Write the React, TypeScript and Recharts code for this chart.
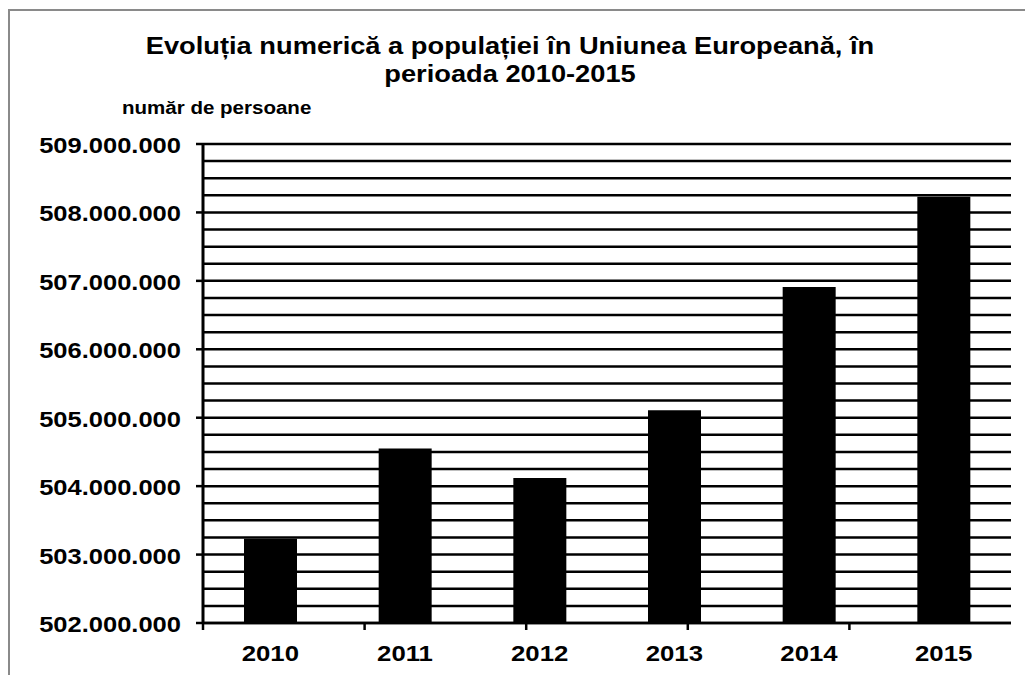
import React from "react";
import { BarChart, Bar, XAxis, YAxis, CartesianGrid } from "recharts";

const years = ["2010", "2011", "2012", "2013", "2014", "2015"];
const population = [503230000, 504550000, 504120000, 505110000, 506910000, 508230000];
const yTicks = [
  502000000, 502250000, 502500000, 502750000,
  503000000, 503250000, 503500000, 503750000,
  504000000, 504250000, 504500000, 504750000,
  505000000, 505250000, 505500000, 505750000,
  506000000, 506250000, 506500000, 506750000,
  507000000, 507250000, 507500000, 507750000,
  508000000, 508250000, 508500000, 508750000,
  509000000,
];
const boundaryTicks = [0, 1, 2, 3, 4, 5, 6];
const titleLines = [
  "Evoluția numerică a populației în Uniunea Europeană, în",
  "perioada 2010-2015",
];
const yAxisTitle = "număr de persoane";

const data = years.map((y, i) => ({ year: y, value: population[i] }));

const FONT = "'Liberation Sans', Arial, sans-serif";

const fmt = (v: number) =>
  String(v).replace(/\B(?=(\d{3})+(?!\d))/g, ".");

const YTick = (props: any) => {
  const { x, y, payload } = props;
  const v = payload.value as number;
  if (v % 1000000 !== 0) return <g />;
  return (
    <g>
      <line x1={x + 15} x2={x + 22} y1={y} y2={y} stroke="#000" strokeWidth={2.5} />
      <text
        x={0}
        y={0}
        transform={`translate(${x},${y + 9}) scale(1.16,1)`}
        textAnchor="end"
        fontFamily={FONT}
        fontWeight="bold"
        fontSize={22}
        fill="#000"
      >
        {fmt(v)}
      </text>
    </g>
  );
};

const XTick = (props: any) => {
  const { x, y, payload } = props;
  return (
    <text
      x={0}
      y={0}
      transform={`translate(${x},${y + 29}) scale(1.12,1)`}
      textAnchor="middle"
      fontFamily={FONT}
      fontWeight="bold"
      fontSize={23}
      fill="#000"
    >
      {payload.value}
    </text>
  );
};

export default function App() {
  return (
    <div style={{ position: "absolute", left: 0, top: 0, width: 1025, height: 675, background: "#fff", overflow: "hidden" }}>
      <div
        style={{
          position: "absolute",
          left: 8,
          top: 9,
          width: 1100,
          height: 800,
          borderLeft: "2px solid #8a8a8a",
          borderTop: "2px solid #8a8a8a",
        }}
      />
      <div
        style={{
          position: "absolute",
          left: 0,
          width: 1020,
          top: 32,
          textAlign: "center",
          fontFamily: FONT,
          fontWeight: "bold",
          fontSize: 23,
          lineHeight: "28px",
          color: "#000",
          transform: "scaleX(1.185)",
          transformOrigin: "510px 0",
        }}
      >
        {titleLines.map((t) => (
          <div key={t}>{t}</div>
        ))}
      </div>
      <div
        style={{
          position: "absolute",
          left: 122,
          top: 98,
          fontFamily: FONT,
          fontWeight: "bold",
          fontSize: 18,
          color: "#000",
          transform: "scaleX(1.14)",
          transformOrigin: "0 0",
          whiteSpace: "nowrap",
        }}
      >
        {yAxisTitle}
      </div>
      <div style={{ position: "absolute", left: 0, top: 0 }}>
        <BarChart
          width={1025}
          height={675}
          data={data}
          margin={{ top: 144, right: 14, bottom: 12, left: 13 }}
          barSize={53}
        >
          <CartesianGrid horizontal vertical={false} stroke="#000" strokeWidth={2.5} />
          <XAxis
            xAxisId="a"
            type="number"
            domain={[0, 6]}
            ticks={boundaryTicks}
            height={1}
            axisLine={{ stroke: "#000", strokeWidth: 2.5 }}
            tickLine={{ stroke: "#000", strokeWidth: 2.5 }}
            tickSize={7}
            tick={() => <g />}
          />
          <XAxis
            xAxisId="b"
            dataKey="year"
            height={39}
            axisLine={false}
            tickLine={false}
            tick={<XTick />}
          />
          <YAxis
            width={190}
            domain={[502000000, 509000000]}
            ticks={yTicks}
            allowDataOverflow
            interval={0}
            tickLine={false}
            tickSize={7}
            tickMargin={15}
            axisLine={{ stroke: "#000", strokeWidth: 3 }}
            tick={<YTick />}
          />
          <Bar xAxisId="b" dataKey="value" fill="#000" isAnimationActive={false} />
        </BarChart>
      </div>
    </div>
  );
}
